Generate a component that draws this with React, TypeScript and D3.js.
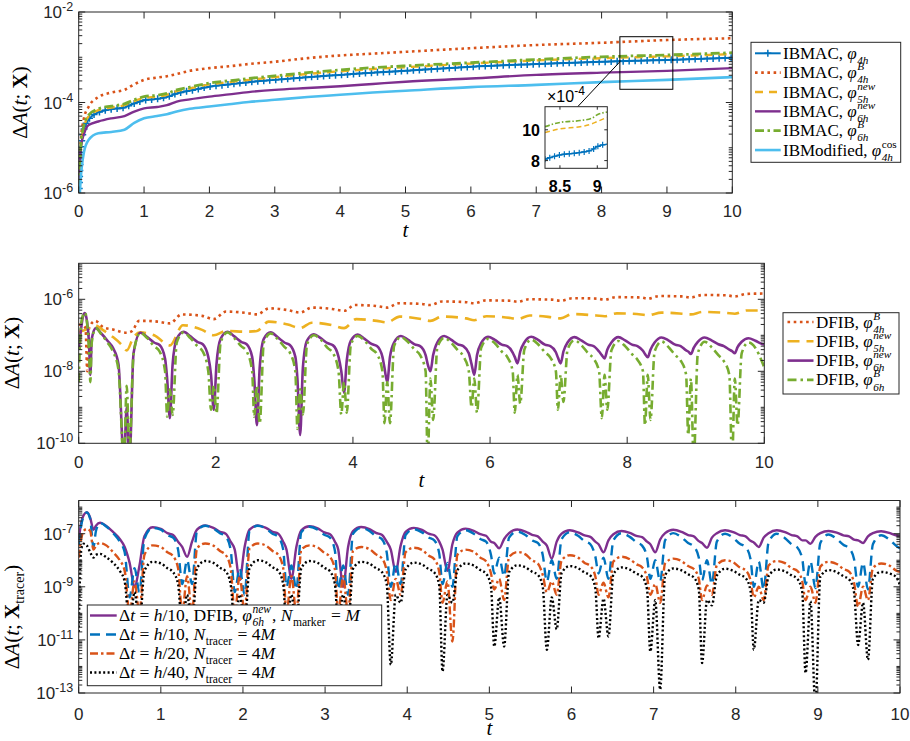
import React, { useEffect, useRef } from "react";
import * as d3 from "d3";

// all series values are log10(ΔA)

// ---------------- panel 1: IBMAC / IBModified ----------------
const t1 = [0, 0.03, 0.08, 0.15, 0.3, 0.5, 0.7, 0.85, 1.0, 1.2, 1.35, 1.5, 1.7, 2.0, 2.3, 2.6, 3.0, 3.5, 4, 4.5, 5, 6, 7, 8, 9, 10];
const p1Phi4h = [-6.3, -5.1, -4.6, -4.38, -4.22, -4.15, -4.11, -4.02, -3.95, -3.92, -3.88, -3.8, -3.74, -3.65, -3.6, -3.55, -3.5, -3.44, -3.39, -3.34, -3.3, -3.21, -3.15, -3.1, -3.06, -3.01];
const p1Phi4hB = [-6.3, -4.9, -4.35, -4.1, -3.88, -3.78, -3.72, -3.6, -3.5, -3.45, -3.42, -3.37, -3.3, -3.24, -3.2, -3.15, -3.1, -3.02, -2.96, -2.92, -2.88, -2.8, -2.73, -2.68, -2.62, -2.58];
const p1Phi5hNew = [-6.3, -5.05, -4.55, -4.31, -4.17, -4.11, -4.06, -3.97, -3.9, -3.87, -3.83, -3.75, -3.69, -3.6, -3.55, -3.5, -3.44, -3.37, -3.31, -3.26, -3.22, -3.14, -3.07, -3.02, -2.98, -2.93];
const p1Phi6hNew = [-6.3, -5.0, -4.7, -4.5, -4.42, -4.35, -4.3, -4.2, -4.13, -4.1, -4.06, -3.98, -3.93, -3.87, -3.82, -3.77, -3.72, -3.68, -3.64, -3.59, -3.54, -3.47, -3.39, -3.34, -3.3, -3.24];
const p1Phi6hB = [-6.3, -5.0, -4.5, -4.28, -4.14, -4.08, -4.03, -3.94, -3.87, -3.84, -3.8, -3.72, -3.66, -3.57, -3.52, -3.47, -3.41, -3.34, -3.28, -3.23, -3.19, -3.12, -3.05, -2.99, -2.95, -2.9];
const p1Cos4h = [-6.5, -5.7, -5.1, -4.83, -4.68, -4.65, -4.6, -4.45, -4.35, -4.3, -4.26, -4.2, -4.14, -4.09, -4.04, -3.99, -3.94, -3.88, -3.83, -3.78, -3.74, -3.66, -3.61, -3.55, -3.5, -3.44];

// inset (linear, values x1e-4)
const insetT = [8.3, 8.5, 8.77, 8.93, 9.0, 9.13];
const insetPhi6hB = [10.2, 10.48, 10.6, 10.76, 10.98, 11.15];
const insetPhi5hNew = [9.82, 10.06, 10.2, 10.39, 10.54, 10.8];
const insetPhi4h = [8.09, 8.37, 8.52, 8.7, 8.91, 9.07];

// ---------------- panel 2: DFIB ----------------
const p2Phi4hB = [
  [0.0, -6.7], [0.05, -6.72], [0.1, -6.8], [0.125, -8.0], [0.15, -6.8], [0.24, -6.6], [0.36, -6.78], [0.5, -6.84],
  [0.7, -6.93], [0.78, -6.88], [0.88, -6.6], [1.0, -6.6], [1.15, -6.62], [1.33, -6.67], [1.5, -6.42], [1.8, -6.46],
  [1.97, -6.55], [2.15, -6.34], [2.45, -6.38], [2.6, -6.42], [2.78, -6.25], [3.05, -6.3], [3.23, -6.37], [3.4, -6.23],
  [3.7, -6.27], [3.87, -6.32], [4.03, -6.16], [4.35, -6.19], [4.5, -6.23], [4.67, -6.11], [5.0, -6.13], [5.13, -6.16],
  [5.3, -6.06], [5.65, -6.08], [5.77, -6.11], [5.94, -6.03], [6.3, -6.04], [6.4, -6.07], [6.57, -6.0], [6.9, -6.01],
  [7.03, -6.04], [7.2, -5.97], [7.55, -5.98], [7.67, -6.01], [7.84, -5.94], [8.2, -5.95], [8.3, -5.98], [8.47, -5.91],
  [8.8, -5.92], [8.93, -5.95], [9.1, -5.88], [9.45, -5.89], [9.57, -5.92], [9.74, -5.85], [10.0, -5.84],
];
const p2Phi5hNew = [
  [0.0, -6.9], [0.1, -6.85], [0.24, -6.72], [0.35, -6.85], [0.5, -7.05], [0.62, -7.25], [0.7, -7.42], [0.8, -7.05],
  [0.9, -6.92], [1.1, -7.0], [1.33, -7.28], [1.52, -6.72], [1.8, -6.85], [1.97, -7.0], [2.15, -6.88], [2.45, -6.9],
  [2.6, -6.88], [2.77, -6.62], [3.05, -6.7], [3.23, -6.8], [3.4, -6.65], [3.7, -6.72], [3.87, -6.8], [4.05, -6.55],
  [4.35, -6.6], [4.5, -6.64], [4.68, -6.48], [5.0, -6.55], [5.13, -6.6], [5.3, -6.48], [5.65, -6.53], [5.77, -6.58],
  [5.95, -6.47], [6.3, -6.52], [6.4, -6.55], [6.58, -6.45], [6.9, -6.5], [7.03, -6.53], [7.2, -6.41], [7.55, -6.45],
  [7.67, -6.47], [7.85, -6.39], [8.2, -6.42], [8.3, -6.44], [8.5, -6.37], [8.8, -6.4], [8.93, -6.42], [9.1, -6.35],
  [9.45, -6.38], [9.57, -6.4], [9.75, -6.31], [10.0, -6.31],
];
const t2 = [
  0, 0.03, 0.06, 0.09, 0.12, 0.15, 0.17, 0.19, 0.25, 0.33, 0.42, 0.5, 0.58,
  0.66, 0.70, 0.74, 0.80, 0.90, 1.00, 1.10, 1.18, 1.26,
  1.29, 1.33, 1.37, 1.43, 1.53, 1.63, 1.73, 1.81, 1.89,
  1.93, 1.97, 2.01, 2.07, 2.17, 2.27, 2.37, 2.45, 2.53,
  2.56, 2.60, 2.64, 2.70, 2.80, 2.90, 3.00, 3.08, 3.16,
  3.19, 3.23, 3.27, 3.33, 3.43, 3.53, 3.63, 3.71, 3.79,
  3.83, 3.87, 3.91, 3.97, 4.07, 4.17, 4.27, 4.35, 4.43,
  4.46, 4.50, 4.54, 4.60, 4.70, 4.80, 4.90, 4.98, 5.06,
  5.09, 5.13, 5.17, 5.23, 5.33, 5.43, 5.53, 5.61, 5.69,
  5.73, 5.77, 5.81, 5.87, 5.97, 6.07, 6.17, 6.25, 6.33,
  6.36, 6.40, 6.44, 6.50, 6.60, 6.70, 6.80, 6.88, 6.96,
  6.99, 7.03, 7.07, 7.13, 7.23, 7.33, 7.43, 7.51, 7.59,
  7.63, 7.67, 7.71, 7.77, 7.87, 7.97, 8.07, 8.15, 8.23,
  8.26, 8.30, 8.34, 8.40, 8.50, 8.60, 8.70, 8.78, 8.86,
  8.89, 8.93, 8.97, 9.03, 9.13, 9.23, 9.33, 9.41, 9.49,
  9.53, 9.57, 9.61, 9.67, 9.77, 9.87, 9.97, 10.0,
];
const p2Phi6hNew = [
  -7.4, -6.9, -6.5, -6.38, -6.6, -7.2, -8.1, -7.1, -6.8, -6.95, -7.15, -7.35, -7.8,
  -10.5, -9.0, -10.5, -7.5, -6.93, -7.05, -7.2, -7.27, -7.65,
  -8.2, -9.3, -7.8, -7.1, -6.9, -7.03, -7.18, -7.25, -7.6,
  -8.1, -9.07, -7.8, -7.1, -6.9, -7.03, -7.18, -7.25, -7.6,
  -8.2, -9.5, -7.9, -7.1, -6.92, -7.05, -7.2, -7.27, -7.6,
  -8.2, -9.77, -7.9, -7.15, -6.97, -7.08, -7.22, -7.28, -7.6,
  -8.0, -8.6, -7.7, -7.15, -6.98, -7.1, -7.24, -7.3, -7.6,
  -7.9, -8.3, -7.6, -7.2, -7.02, -7.12, -7.25, -7.3, -7.55,
  -7.8, -8.0, -7.55, -7.2, -7.02, -7.12, -7.25, -7.3, -7.5,
  -7.8, -8.1, -7.55, -7.22, -7.04, -7.13, -7.26, -7.3, -7.48,
  -7.6, -7.78, -7.45, -7.2, -7.04, -7.13, -7.26, -7.3, -7.47,
  -7.62, -7.78, -7.45, -7.2, -7.05, -7.14, -7.26, -7.3, -7.45,
  -7.55, -7.64, -7.4, -7.2, -7.05, -7.14, -7.26, -7.3, -7.43,
  -7.52, -7.61, -7.4, -7.2, -7.06, -7.14, -7.26, -7.3, -7.42,
  -7.45, -7.52, -7.35, -7.18, -7.06, -7.14, -7.25, -7.3, -7.4,
  -7.44, -7.5, -7.33, -7.18, -7.08, -7.15, -7.24, -7.25,
];
const p2Phi6hB = [
  -8.3, -6.8, -6.45, -6.37, -6.62, -7.4, -8.3, -7.2, -6.8, -6.97, -7.2, -7.45, -7.95,
  -10.5, -8.4, -10.3, -7.5, -6.93, -7.08, -7.3, -7.45, -8.0,
  -9.26, -8.5, -9.21, -7.2, -6.92, -7.08, -7.3, -7.45, -8.0,
  -9.07, -8.4, -9.17, -7.2, -6.92, -7.08, -7.3, -7.45, -8.0,
  -9.26, -8.4, -9.45, -7.2, -6.95, -7.1, -7.32, -7.48, -8.0,
  -9.6, -8.5, -9.2, -7.25, -7.0, -7.12, -7.35, -7.5, -8.0,
  -9.2, -8.3, -9.15, -7.25, -7.02, -7.15, -7.38, -7.52, -8.0,
  -9.44, -8.3, -9.44, -7.3, -7.05, -7.18, -7.4, -7.55, -8.0,
  -10.5, -8.2, -9.35, -7.35, -7.07, -7.2, -7.42, -7.58, -8.0,
  -9.0, -8.2, -9.15, -7.35, -7.1, -7.22, -7.45, -7.6, -8.0,
  -9.15, -8.1, -8.9, -7.4, -7.12, -7.25, -7.47, -7.62, -8.0,
  -9.07, -8.1, -8.85, -7.4, -7.14, -7.27, -7.5, -7.65, -8.0,
  -9.3, -8.1, -9.07, -7.42, -7.16, -7.3, -7.52, -7.68, -8.0,
  -9.5, -8.1, -9.35, -7.45, -7.17, -7.32, -7.55, -7.7, -8.1,
  -9.77, -8.2, -10.5, -7.5, -7.18, -7.33, -7.55, -7.72, -8.1,
  -10.5, -8.2, -9.5, -7.5, -7.2, -7.35, -7.75, -7.9,
];

// ---------------- panel 3: tracer points ----------------
const t3 = [
  0, 0.03, 0.06, 0.1, 0.14, 0.18, 0.21, 0.26, 0.34, 0.42, 0.5, 0.56,
  0.62, 0.68, 0.74, 0.80, 0.90, 1.00, 1.08, 1.15, 1.21,
  1.26, 1.32, 1.38, 1.44, 1.54, 1.64, 1.72, 1.79, 1.85,
  1.90, 1.96, 2.02, 2.08, 2.18, 2.28, 2.36, 2.43, 2.49,
  2.53, 2.59, 2.65, 2.71, 2.81, 2.91, 2.99, 3.06, 3.12,
  3.16, 3.22, 3.28, 3.34, 3.44, 3.54, 3.62, 3.69, 3.75,
  3.80, 3.86, 3.92, 3.98, 4.08, 4.18, 4.26, 4.33, 4.39,
  4.43, 4.49, 4.55, 4.61, 4.71, 4.81, 4.89, 4.96, 5.02,
  5.06, 5.12, 5.18, 5.24, 5.34, 5.44, 5.52, 5.59, 5.65,
  5.70, 5.76, 5.82, 5.88, 5.98, 6.08, 6.16, 6.23, 6.29,
  6.33, 6.39, 6.45, 6.51, 6.61, 6.71, 6.79, 6.86, 6.92,
  6.96, 7.02, 7.08, 7.14, 7.24, 7.34, 7.42, 7.49, 7.55,
  7.59, 7.65, 7.71, 7.77, 7.87, 7.97, 8.05, 8.12, 8.18,
  8.22, 8.28, 8.34, 8.40, 8.50, 8.60, 8.68, 8.75, 8.81,
  8.85, 8.91, 8.97, 9.03, 9.13, 9.23, 9.31, 9.38, 9.44,
  9.49, 9.55, 9.61, 9.67, 9.77, 9.87, 9.95, 10.0,
];
const p3Marker = [
  -7.25, -6.6, -6.3, -6.19, -6.4, -6.85, -6.7, -6.59, -6.72, -6.94, -7.2, -7.5,
  -8.1, -9.0, -8.2, -7.1, -6.76, -6.82, -6.98, -7.05, -7.3,
  -7.5, -7.87, -7.3, -6.85, -6.69, -6.78, -6.93, -7.0, -7.3,
  -7.6, -8.75, -7.5, -6.85, -6.69, -6.78, -6.93, -7.0, -7.3,
  -7.6, -8.7, -7.5, -6.87, -6.72, -6.8, -6.95, -7.02, -7.3,
  -7.6, -9.0, -7.5, -6.9, -6.75, -6.83, -6.97, -7.04, -7.3,
  -7.6, -8.44, -7.45, -6.93, -6.78, -6.86, -7.0, -7.06, -7.3,
  -7.6, -8.4, -7.4, -6.96, -6.81, -6.89, -7.02, -7.08, -7.3,
  -7.35, -7.55, -7.2, -6.98, -6.84, -6.92, -7.04, -7.1, -7.3,
  -7.45, -7.94, -7.3, -7.0, -6.87, -6.95, -7.06, -7.12, -7.3,
  -7.4, -7.7, -7.25, -7.02, -6.9, -6.97, -7.08, -7.13, -7.3,
  -7.4, -7.7, -7.22, -6.98, -6.85, -6.93, -7.05, -7.1, -7.28,
  -7.35, -7.53, -7.15, -6.98, -6.87, -6.94, -7.05, -7.1, -7.27,
  -7.33, -7.5, -7.15, -6.98, -6.87, -6.94, -7.05, -7.1, -7.25,
  -7.25, -7.38, -7.12, -6.98, -6.9, -6.96, -7.06, -7.1, -7.22,
  -7.25, -7.35, -7.1, -6.98, -6.91, -6.97, -7.06, -7.09,
];
const p3Dt10 = [
  -7.4, -6.7, -6.35, -6.2, -6.45, -7.5, -6.9, -6.6, -6.74, -6.98, -7.3, -7.7,
  -9.4, -8.3, -9.2, -7.2, -6.78, -6.85, -7.05, -7.15, -7.6,
  -8.9, -8.0, -8.9, -6.9, -6.7, -6.8, -6.98, -7.1, -7.6,
  -9.2, -8.3, -9.3, -6.9, -6.7, -6.81, -7.0, -7.12, -7.6,
  -9.0, -8.2, -9.1, -6.95, -6.74, -6.85, -7.04, -7.15, -7.65,
  -9.1, -8.2, -9.3, -7.0, -6.78, -6.9, -7.1, -7.2, -7.7,
  -9.0, -8.1, -8.9, -7.05, -6.83, -6.95, -7.14, -7.25, -7.75,
  -8.9, -8.1, -9.0, -7.1, -6.87, -7.0, -7.2, -7.3, -7.8,
  -8.5, -7.9, -8.6, -7.15, -6.92, -7.05, -7.25, -7.35, -7.8,
  -8.8, -8.0, -8.7, -7.2, -6.95, -7.08, -7.28, -7.4, -7.85,
  -8.5, -7.9, -8.7, -7.25, -6.98, -7.12, -7.32, -7.45, -7.9,
  -8.7, -8.0, -8.8, -7.25, -6.98, -7.14, -7.35, -7.48, -7.9,
  -8.75, -8.0, -8.9, -7.3, -7.0, -7.16, -7.38, -7.5, -7.95,
  -9.0, -8.05, -9.1, -7.32, -7.0, -7.17, -7.4, -7.52, -7.95,
  -8.9, -8.05, -9.05, -7.35, -7.03, -7.2, -7.42, -7.55, -7.95,
  -9.0, -8.1, -9.1, -7.4, -7.06, -7.22, -7.45, -7.56,
];
const p3Dt20 = [
  -7.9, -7.2, -6.9, -6.82, -6.9, -7.6, -7.45, -7.35, -7.45, -7.7, -8.0, -8.4,
  -10.0, -8.8, -10.0, -7.8, -7.44, -7.5, -7.7, -7.85, -8.3,
  -10.0, -8.6, -10.0, -7.55, -7.37, -7.45, -7.65, -7.8, -8.3,
  -10.0, -8.6, -10.0, -7.55, -7.37, -7.45, -7.65, -7.8, -8.3,
  -10.0, -8.6, -10.0, -7.6, -7.44, -7.52, -7.72, -7.87, -8.35,
  -10.0, -8.6, -10.0, -7.65, -7.5, -7.58, -7.78, -7.92, -8.4,
  -9.5, -8.7, -9.3, -7.7, -7.53, -7.61, -7.82, -7.96, -8.45,
  -9.6, -8.8, -11.06, -7.8, -7.6, -7.68, -7.9, -8.04, -8.5,
  -9.1, -8.7, -9.5, -7.88, -7.69, -7.78, -8.0, -8.12, -8.55,
  -9.2, -8.8, -9.3, -8.0, -7.81, -7.9, -8.1, -8.22, -8.6,
  -9.3, -8.85, -9.4, -8.05, -7.87, -7.96, -8.15, -8.27, -8.65,
  -9.3, -8.9, -9.6, -8.12, -7.94, -8.03, -8.22, -8.33, -8.7,
  -9.5, -8.95, -9.3, -8.18, -8.0, -8.08, -8.27, -8.38, -8.75,
  -9.4, -9.0, -9.5, -8.2, -8.03, -8.11, -8.3, -8.4, -8.8,
  -9.5, -9.0, -9.6, -8.24, -8.06, -8.14, -8.33, -8.43, -8.85,
  -9.75, -9.0, -9.5, -8.3, -8.12, -8.2, -8.38, -8.44,
];
const p3Dt40 = [
  -10.7, -7.6, -7.38, -7.45, -7.7, -7.9, -7.8, -7.76, -7.9, -8.1, -8.4, -8.8,
  -10.5, -9.2, -10.5, -8.4, -8.06, -8.12, -8.3, -8.45, -8.9,
  -10.5, -9.3, -10.5, -8.3, -8.03, -8.1, -8.28, -8.42, -8.9,
  -10.5, -9.3, -10.5, -8.3, -8.0, -8.08, -8.26, -8.4, -8.9,
  -10.5, -9.3, -10.5, -8.3, -8.03, -8.1, -8.28, -8.42, -8.9,
  -10.5, -9.3, -10.5, -8.32, -8.06, -8.13, -8.3, -8.44, -8.9,
  -11.94, -9.3, -9.6, -8.35, -8.09, -8.16, -8.33, -8.46, -8.95,
  -12.19, -9.3, -9.6, -8.38, -8.12, -8.2, -8.37, -8.5, -9.0,
  -11.25, -9.4, -11.25, -8.45, -8.19, -8.27, -8.43, -8.55, -9.0,
  -11.37, -9.4, -10.6, -8.48, -8.22, -8.3, -8.46, -8.58, -9.05,
  -10.94, -9.45, -10.87, -8.52, -8.27, -8.35, -8.5, -8.62, -9.1,
  -11.44, -9.5, -12.87, -8.56, -8.31, -8.38, -8.53, -8.65, -9.1,
  -11.87, -9.5, -9.7, -8.58, -8.32, -8.4, -8.55, -8.67, -9.15,
  -11.37, -9.5, -9.6, -8.6, -8.35, -8.42, -8.57, -8.7, -9.2,
  -12.25, -9.55, -13.5, -8.62, -8.37, -8.45, -8.6, -8.72, -9.2,
  -11.19, -9.6, -11.75, -8.7, -8.44, -8.5, -8.62, -8.94,
];

// ---------------- tick labels ----------------
const xTicks1 = [0, 1, 2, 3, 4, 5, 6, 7, 8, 9, 10];
const xTicks2 = [0, 2, 4, 6, 8, 10];
const xTicks3 = [0, 1, 2, 3, 4, 5, 6, 7, 8, 9, 10];
const yExp1 = [-2, -4, -6];
const yExp2 = [-6, -8, -10];
const yExp3 = [-7, -9, -11, -13];
const insetXTicks = [8.5, 9];
const insetYTicks = [8, 10];

const SANS = '"Liberation Sans", Arial, Helvetica, sans-serif';
const SERIF = '"Liberation Serif", "Times New Roman", serif';
const AX = "#262626";

const C = {
  blue: "#0072BD",
  orange: "#D95319",
  yellow: "#EDB120",
  purple: "#7E2F8E",
  green: "#77AC30",
  cyan: "#4DBEEE",
  black: "#000000",
};

let measureCtx: any = null;
function measure(s: string, font: string) {
  if (!measureCtx) measureCtx = document.createElement("canvas").getContext("2d");
  measureCtx.font = font;
  return measureCtx.measureText(s).width;
}

function logPath(ts: number[], logs: number[], x: any, y: any) {
  const pts = ts.map((t, i) => [t, Math.pow(10, logs[i])]);
  return d3.line<any>().x(d => x(d[0])).y(d => y(d[1])).curve(d3.curveMonotoneX)(pts) || "";
}
function pairPath(pairs: number[][], x: any, y: any) {
  return logPath(pairs.map(p => p[0]), pairs.map(p => p[1]), x, y);
}
function linPath(ts: number[], vs: number[], x: any, y: any) {
  const pts = ts.map((t, i) => [t, vs[i]]);
  return d3.line<any>().x(d => x(d[0])).y(d => y(d[1])).curve(d3.curveMonotoneX)(pts) || "";
}

// one <text> per legend entry, with tspans placed at measured x
function Rich({ x, y, segs, size = 17 }: any) {
  const small = size * 0.66;
  let cx = x;
  const spans: any[] = [];
  segs.forEach((g: any, k: number) => {
    const st = g.it ? "italic" : "normal";
    spans.push(
      <tspan key={"m" + k} x={cx} y={y} fontSize={size} fontStyle={st}>
        {g.s}
      </tspan>
    );
    cx += measure(g.s, `${st} ${size}px ${SERIF}`);
    let w = 0;
    if (g.sup) {
      const ss = g.supUp ? "normal" : "italic";
      spans.push(
        <tspan key={"p" + k} x={cx + 0.5} y={y - size * 0.47} fontSize={small} fontStyle={ss}>
          {g.sup}
        </tspan>
      );
      w = Math.max(w, measure(g.sup, `${ss} ${small}px ${SERIF}`));
    }
    if (g.sub) {
      const ss = g.subUp ? "normal" : "italic";
      spans.push(
        <tspan key={"b" + k} x={cx + 0.5} y={y + size * 0.3} fontSize={small} fontStyle={ss}>
          {g.sub}
        </tspan>
      );
      w = Math.max(w, measure(g.sub, `${ss} ${small}px ${SERIF}`));
    }
    if (w) cx += w + 1.5;
  });
  return (
    <text fontFamily={SERIF} fill="#000" style={{ whiteSpace: "pre" }}>
      {spans}
    </text>
  );
}

function Frame({ x, y, xTicks, yExps, labelBase, tBase, tick = 6.5 }: any) {
  const [xa, xb] = x.range();
  const [yb, ya] = y.range();
  const [lo, hi] = y.domain();
  const minors: number[] = [];
  for (let k = Math.floor(Math.log10(lo) + 1e-9); k < Math.ceil(Math.log10(hi) - 1e-9); k++) {
    for (let m = 1; m <= 9; m++) {
      const v = m * Math.pow(10, k);
      if (v < lo * 0.999 || v > hi * 1.001) continue;
      if (m === 1 && yExps.includes(k)) continue;
      minors.push(v);
    }
  }
  return (
    <g>
      <rect x={xa} y={ya} width={xb - xa} height={yb - ya} fill="none" stroke={AX} strokeWidth={1} />
      <g stroke={AX} strokeWidth={1}>
        {xTicks.map((t: number) => (
          <g key={"x" + t}>
            <line x1={x(t)} x2={x(t)} y1={yb} y2={yb - tick} />
            <line x1={x(t)} x2={x(t)} y1={ya} y2={ya + tick} />
          </g>
        ))}
        {yExps.map((e: number) => {
          const yy = y(Math.pow(10, e));
          return (
            <g key={"y" + e}>
              <line x1={xa} x2={xa + tick} y1={yy} y2={yy} />
              <line x1={xb} x2={xb - tick} y1={yy} y2={yy} />
            </g>
          );
        })}
        {minors.map((v, i) => {
          const yy = y(v);
          return (
            <g key={"m" + i}>
              <line x1={xa} x2={xa + tick * 0.55} y1={yy} y2={yy} />
              <line x1={xb} x2={xb - tick * 0.55} y1={yy} y2={yy} />
            </g>
          );
        })}
      </g>
      <g fontFamily={SANS} fontSize={17} fill={AX}>
        {xTicks.map((t: number) => (
          <text key={"xl" + t} x={x(t)} y={labelBase} textAnchor="middle">
            {t}
          </text>
        ))}
        {yExps.map((e: number) => (
          <text key={"yl" + e} x={xa - 5.5} y={y(Math.pow(10, e)) + 6} textAnchor="end">
            <tspan>10</tspan>
            <tspan dy={-7} fontSize={12.5}>
              {"-" + Math.abs(e)}
            </tspan>
          </text>
        ))}
      </g>
      <text x={(xa + xb) / 2} y={tBase} textAnchor="middle" fontFamily={SERIF} fontStyle="italic" fontSize={21}>
        t
      </text>
    </g>
  );
}

function YLabel({ cx, cy, sub }: any) {
  return (
    <text transform={`translate(${cx},${cy}) rotate(-90)`} textAnchor="middle" fontFamily={SERIF} fontSize={21} style={{ whiteSpace: "pre" }}>
      <tspan>Δ</tspan>
      <tspan fontStyle="italic">A</tspan>
      <tspan>(</tspan>
      <tspan fontStyle="italic">t</tspan>
      <tspan>; </tspan>
      <tspan fontWeight="bold">X</tspan>
      {sub ? (
        <>
          <tspan fontSize={14} dy={5}>
            {sub}
          </tspan>
          <tspan dy={-5}>)</tspan>
        </>
      ) : (
        <tspan>)</tspan>
      )}
    </text>
  );
}

function Legend({ box, rows, x0, x1, xt, size = 17 }: any) {
  return (
    <g>
      <rect x={box[0]} y={box[1]} width={box[2] - box[0]} height={box[3] - box[1]} fill="#fff" stroke={AX} strokeWidth={1} />
      {rows.map((r: any, i: number) => (
        <g key={i}>
          <line x1={x0} x2={x1} y1={r.y} y2={r.y} stroke={r.st.c} strokeWidth={r.st.w} strokeDasharray={r.st.dash} />
          {r.st.plus && (
            <path
              d={`M${(x0 + x1) / 2 - 3.5},${r.y}h7M${(x0 + x1) / 2},${r.y - 3.5}v7`}
              stroke={r.st.c}
              strokeWidth={1.5}
            />
          )}
          <Rich x={xt} y={r.y + 5.5} segs={r.segs} size={size} />
        </g>
      ))}
    </g>
  );
}

export default function App() {
  const blueMain = useRef<SVGPathElement>(null);
  const blueMarks = useRef<SVGGElement>(null);
  const blueInset = useRef<SVGPathElement>(null);
  const insetMarks = useRef<SVGGElement>(null);

  // panel geometry
  const x1 = d3.scaleLinear().domain([0, 10]).range([78.7, 732.3]);
  const y1 = d3.scaleLog().domain([1e-6, 1e-2]).range([193, 12]);
  const x2 = d3.scaleLinear().domain([0, 10]).range([78.7, 764.3]);
  const y2 = d3.scaleLog().domain([1e-10, 1e-5]).range([443.3, 263.3]);
  const x3 = d3.scaleLinear().domain([0, 10]).range([78.7, 900]);
  const y3 = d3.scaleLog().domain([1e-13, Math.pow(10, -5.75)]).range([693, 500.5]);
  const xi = d3.scaleLinear().domain([8.3, 9.134]).range([545, 607.3]);
  const yi = d3.scaleLinear().domain([7.5, 11.5]).range([168.3, 106.7]);

  useEffect(() => {
    const plus = (path: any, g: any, step: number, r: number) => {
      if (!path || !g) return;
      const sel = d3.select(g);
      sel.selectAll("*").remove();
      const len = path.getTotalLength();
      for (let l = 0; l <= len; l += step) {
        const p = path.getPointAtLength(l);
        sel.append("path").attr("d", `M${p.x - r},${p.y}H${p.x + r}M${p.x},${p.y - r}V${p.y + r}`);
      }
    };
    plus(blueMain.current, blueMarks.current, 6, 3.5);
    plus(blueInset.current, insetMarks.current, 5, 3);
  }, []);

  const st = {
    blue: { c: C.blue, w: 2, plus: true },
    orangeDot: { c: C.orange, w: 2.6, dash: "2.6 3.6" },
    yellowDash: { c: C.yellow, w: 2.4, dash: "8 6" },
    purple: { c: C.purple, w: 2.4 },
    greenDD: { c: C.green, w: 2.8, dash: "9 3.5 2.5 3.5" },
    cyan: { c: C.cyan, w: 2.6 },
  };

  const phi = (sup: string | null, sub: string, supUp = false) => ({ s: "φ", it: true, sup, sub, supUp });
  const leg1 = [
    { st: st.blue, segs: [{ s: "IBMAC, " }, phi(null, "4h")] },
    { st: st.orangeDot, segs: [{ s: "IBMAC, " }, phi("B", "4h")] },
    { st: st.yellowDash, segs: [{ s: "IBMAC, " }, phi("new", "5h")] },
    { st: st.purple, segs: [{ s: "IBMAC, " }, phi("new", "6h")] },
    { st: st.greenDD, segs: [{ s: "IBMAC, " }, phi("B", "6h")] },
    { st: st.cyan, segs: [{ s: "IBModified, " }, phi("cos", "4h", true)] },
  ].map((r, i) => ({ ...r, y: 53.3 + i * 19.35 }));

  const st2 = {
    orange: { c: C.orange, w: 2.6, dash: "2.6 3.6" },
    yellow: { c: C.yellow, w: 2.6, dash: "12 7" },
    purple: { c: C.purple, w: 2.6 },
    green: { c: C.green, w: 2.6, dash: "9 4 2.5 4" },
  };
  const leg2 = [
    { st: st2.orange, segs: [{ s: "DFIB, " }, phi("B", "4h")] },
    { st: st2.yellow, segs: [{ s: "DFIB, " }, phi("new", "5h")] },
    { st: st2.purple, segs: [{ s: "DFIB, " }, phi("new", "6h")] },
    { st: st2.green, segs: [{ s: "DFIB, " }, phi("B", "6h")] },
  ].map((r, i) => ({ ...r, y: 322 + i * 19.3 }));

  const st3 = {
    purple: { c: C.purple, w: 2.4 },
    blue: { c: C.blue, w: 2.4, dash: "10 6" },
    orange: { c: C.orange, w: 2.4, dash: "8 3 2.5 3" },
    black: { c: C.black, w: 2.4, dash: "2 2.4" },
  };
  const dt = (n: string) => [{ s: "Δ" }, { s: "t", it: true }, { s: " = " }, { s: "h", it: true }, { s: "/" + n + ", " }];
  const ntr = [{ s: "N", it: true, sub: "tracer", subUp: true }, { s: " = 4" }, { s: "M", it: true }];
  const leg3 = [
    {
      st: st3.purple,
      segs: [...dt("10"), { s: "DFIB, " }, phi("new", "6h"), { s: ", " }, { s: "N", it: true, sub: "marker", subUp: true }, { s: " = " }, { s: "M", it: true }],
    },
    { st: st3.blue, segs: [...dt("10"), ...ntr] },
    { st: st3.orange, segs: [...dt("20"), ...ntr] },
    { st: st3.black, segs: [...dt("40"), ...ntr] },
  ].map((r, i) => ({ ...r, y: 615.5 + i * 19 }));

  const draw = (d: string, s: any, ref?: any) => (
    <path ref={ref} d={d} fill="none" stroke={s.c} strokeWidth={s.w} strokeDasharray={s.dash} strokeLinejoin="round" />
  );

  // zoom box in panel 1
  const zx0 = x1(8.28), zx1 = x1(9.09), zy0 = y1(Math.pow(10, -2.546)), zy1 = y1(Math.pow(10, -3.708));

  return (
    <svg width={910} height={741} style={{ position: "absolute", left: 0, top: 0, background: "#fff" }}>
      <defs>
        <clipPath id="c1"><rect x={78.7} y={12} width={732.3 - 78.7} height={193 - 12} /></clipPath>
        <clipPath id="c2"><rect x={78.7} y={263.3} width={764.3 - 78.7} height={443.3 - 263.3} /></clipPath>
        <clipPath id="c3"><rect x={78.7} y={500.5} width={900 - 78.7} height={693 - 500.5} /></clipPath>
        <clipPath id="ci"><rect x={545} y={106.7} width={607.3 - 545} height={168.3 - 106.7} /></clipPath>
      </defs>

      {/* ---------------- panel 1 ---------------- */}
      <g clipPath="url(#c1)">
        {draw(logPath(t1, p1Phi4h, x1, y1), st.blue, blueMain)}
        <g ref={blueMarks} stroke={C.blue} strokeWidth={1.5} fill="none" />
        {draw(logPath(t1, p1Phi4hB, x1, y1), st.orangeDot)}
        {draw(logPath(t1, p1Phi5hNew, x1, y1), st.yellowDash)}
        {draw(logPath(t1, p1Phi6hNew, x1, y1), st.purple)}
        {draw(logPath(t1, p1Phi6hB, x1, y1), st.greenDD)}
        {draw(logPath(t1, p1Cos4h, x1, y1), st.cyan)}
      </g>
      <rect x={zx0} y={zy0} width={zx1 - zx0} height={zy1 - zy0} fill="none" stroke="#000" strokeWidth={1} />
      <line x1={577.7} y1={106.7} x2={zx0} y2={y1(Math.pow(10, -3.1))} stroke="#000" strokeWidth={1} />
      <Frame x={x1} y={y1} xTicks={xTicks1} yExps={yExp1} labelBase={217} tBase={237} />
      <YLabel cx={27} cy={102.5} />
      <Legend box={[751, 42.3, 900.7, 162.3]} rows={leg1} x0={755} x1={780.7} xt={783} />

      {/* inset */}
      <rect x={545} y={106.7} width={607.3 - 545} height={168.3 - 106.7} fill="#fff" />
      <g clipPath="url(#ci)">
        {draw(linPath(insetT, insetPhi5hNew, xi, yi), { c: C.yellow, w: 1.5, dash: "5 3" })}
        {draw(linPath(insetT, insetPhi6hB, xi, yi), { c: C.green, w: 1.6, dash: "5 2 1.5 2" })}
        {draw(linPath(insetT, insetPhi4h, xi, yi), { c: C.blue, w: 1.5 }, blueInset)}
        <g ref={insetMarks} stroke={C.blue} strokeWidth={1.2} fill="none" />
      </g>
      <rect x={545} y={106.7} width={607.3 - 545} height={168.3 - 106.7} fill="none" stroke={AX} strokeWidth={1} />
      <g stroke={AX} strokeWidth={1}>
        {insetXTicks.map(t => (
          <g key={t}>
            <line x1={xi(t)} x2={xi(t)} y1={168.3} y2={165.3} />
            <line x1={xi(t)} x2={xi(t)} y1={106.7} y2={109.7} />
          </g>
        ))}
        {insetYTicks.map(v => (
          <g key={v}>
            <line x1={545} x2={548} y1={yi(v)} y2={yi(v)} />
            <line x1={607.3} x2={604.3} y1={yi(v)} y2={yi(v)} />
          </g>
        ))}
      </g>
      <g fontFamily={SANS} fontSize={16} fontWeight="bold" fill="#000">
        {insetXTicks.map(t => (
          <text key={t} x={xi(t)} y={191.5} textAnchor="middle">{t}</text>
        ))}
        {insetYTicks.map(v => (
          <text key={v} x={540} y={yi(v) + 6} textAnchor="end">{v}</text>
        ))}
      </g>
      <text x={547} y={101.5} fontFamily={SANS} fontSize={16} fill="#000">
        <tspan>×10</tspan>
        <tspan dy={-7} fontSize={12}>-4</tspan>
      </text>

      {/* ---------------- panel 2 ---------------- */}
      <g clipPath="url(#c2)">
        {draw(pairPath(p2Phi4hB, x2, y2), st2.orange)}
        {draw(pairPath(p2Phi5hNew, x2, y2), st2.yellow)}
        {draw(logPath(t2, p2Phi6hNew, x2, y2), st2.purple)}
        {draw(logPath(t2, p2Phi6hB, x2, y2), st2.green)}
      </g>
      <Frame x={x2} y={y2} xTicks={xTicks2} yExps={yExp2} labelBase={468} tBase={487} />
      <YLabel cx={19} cy={353} />
      <Legend box={[783, 312.7, 899, 394]} rows={leg2} x0={787.5} x1={813.5} xt={816} />

      {/* ---------------- panel 3 ---------------- */}
      <g clipPath="url(#c3)">
        {draw(logPath(t3, p3Marker, x3, y3), st3.purple)}
        {draw(logPath(t3, p3Dt10, x3, y3), st3.blue)}
        {draw(logPath(t3, p3Dt20, x3, y3), st3.orange)}
        {draw(logPath(t3, p3Dt40, x3, y3), st3.black)}
      </g>
      <Frame x={x3} y={y3} xTicks={xTicks3} yExps={yExp3} labelBase={720} tBase={735} />
      <YLabel cx={19} cy={617} sub="tracer" />
      <Legend box={[87.3, 605, 381.7, 685.7]} rows={leg3} x0={90} x1={116.7} xt={119} size={17.5} />
    </svg>
  );
}
